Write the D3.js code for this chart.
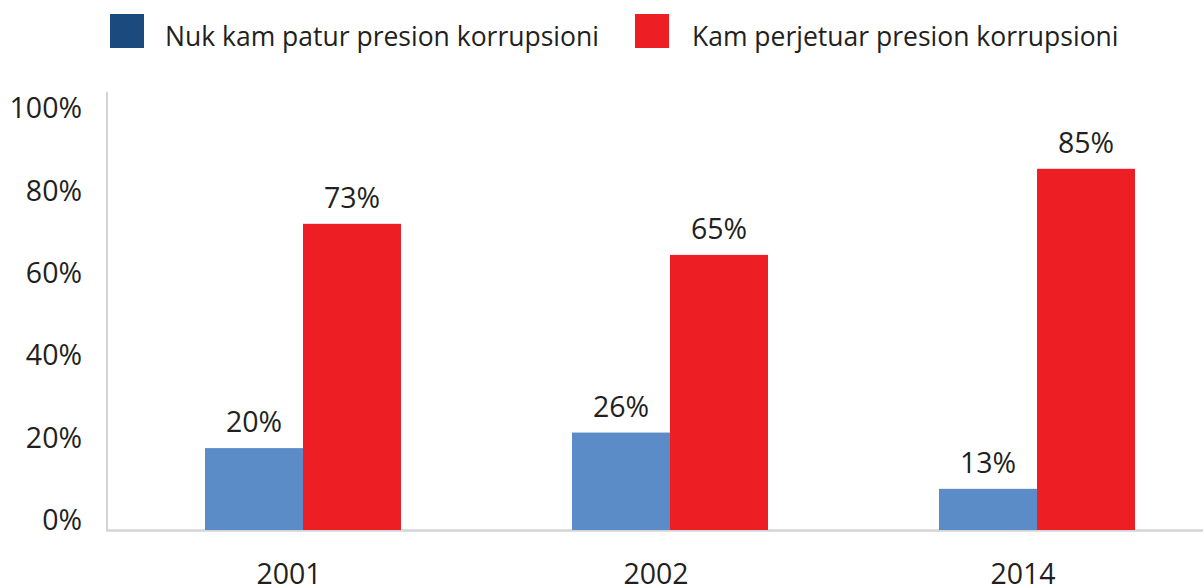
<!DOCTYPE html>
<html>
<head>
<meta charset="utf-8">
<script src="https://cdn.jsdelivr.net/npm/d3@7"></script>
<style>
  html, body { margin: 0; padding: 0; background: #fff; }
  svg { display: block; font-family: "Open Sans", sans-serif; }
</style>
</head>
<body>
<svg id="chart" width="1203" height="587"></svg>
<script>
// ---- data ----
const categories = ["2001", "2002", "2014"];
const seriesNames = ["Nuk kam patur presion korrupsioni", "Kam perjetuar presion korrupsioni"];
const noPressure = [19.5, 23.2, 9.8];      // bar heights (%)
const pressure = [72.9, 65.5, 86.0];       // bar heights (%)
const noPressureLabels = ["20%", "26%", "13%"];
const pressureLabels = ["73%", "65%", "85%"];
const yTicks = [0, 20, 40, 60, 80, 100];
const yTickLabels = ["0%", "20%", "40%", "60%", "80%", "100%"];

const barColors = ["#5b8cc7", "#ed1f24"];
const legendColors = ["#1b4a7f", "#ed1f24"];
const textColor = "#231f20";
const axisColor = "#d4d4d4";

const svg = d3.select("#chart");

// scales
const x0 = d3.scaleBand().domain(categories)
  .range([119.5, 1220.5]).paddingInner(0.466).paddingOuter(0.233);
const x1 = d3.scaleBand().domain([0, 1]).range([0, x0.bandwidth()]);
const y = d3.scaleLinear().domain([0, 100]).range([530, 110]);
const yTickScale = d3.scaleLinear().domain([0, 100]).range([520, 108]);

// axis lines
svg.append("line").attr("x1", 107).attr("x2", 107).attr("y1", 92).attr("y2", 531)
  .attr("stroke", axisColor).attr("stroke-width", 2);
svg.append("line").attr("x1", 106).attr("x2", 1203).attr("y1", 530.5).attr("y2", 530.5)
  .attr("stroke", axisColor).attr("stroke-width", 2.5);

// y tick labels
svg.append("g").selectAll("text").data(yTicks).join("text")
  .attr("x", 82).attr("y", d => yTickScale(d)).attr("dy", "0.36em")
  .attr("text-anchor", "end").attr("font-size", 28.5).attr("fill", textColor)
  .text((d, i) => yTickLabels[i]);

// bars
const seriesVals = [noPressure, pressure];
const seriesLabels = [noPressureLabels, pressureLabels];
const groups = svg.append("g").selectAll("g").data(categories).join("g")
  .attr("transform", d => `translate(${x0(d)},0)`);

groups.selectAll("rect").data((d, ci) => [0, 1].map(s => ({ s, v: seriesVals[s][ci] })))
  .join("rect")
  .attr("x", d => x1(d.s)).attr("width", x1.bandwidth())
  .attr("y", d => y(d.v)).attr("height", d => y(0) - y(d.v))
  .attr("fill", d => barColors[d.s]);

groups.selectAll("text.val").data((d, ci) => [0, 1].map(s => ({ s, v: seriesVals[s][ci], t: seriesLabels[s][ci] })))
  .join("text").attr("class", "val")
  .attr("x", d => x1(d.s) + x1.bandwidth() / 2)
  .attr("y", d => y(d.v) - 16)
  .attr("text-anchor", "middle").attr("font-size", 28.5).attr("fill", textColor)
  .text(d => d.t);

// x category labels
svg.append("g").selectAll("text").data(categories).join("text")
  .attr("x", d => x0(d) + x0.bandwidth() / 2 - 14).attr("y", 584)
  .attr("text-anchor", "middle").attr("font-size", 28.5).attr("fill", textColor)
  .text(d => d);

// legend
const legendX = [110, 635];
const leg = svg.append("g").selectAll("g").data(seriesNames).join("g")
  .attr("transform", (d, i) => `translate(${legendX[i]},14)`);
leg.append("rect").attr("width", 34).attr("height", 34).attr("fill", (d, i) => legendColors[i]);
leg.append("text").attr("x", (d, i) => i === 0 ? 55 : 57).attr("y", 32)
  .attr("font-size", 26.5).attr("fill", textColor).text(d => d);
</script>
</body>
</html>
